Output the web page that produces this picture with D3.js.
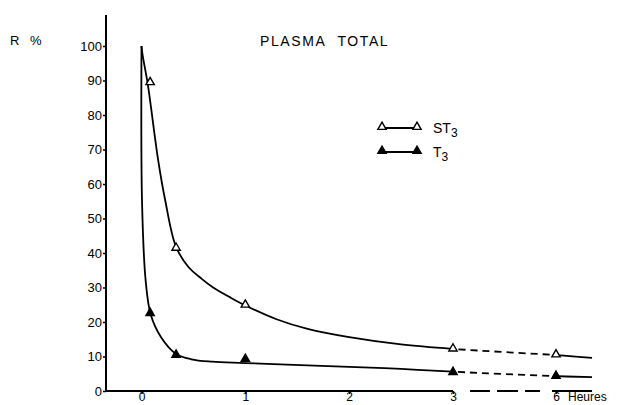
<!DOCTYPE html>
<html><head><meta charset="utf-8">
<script src="https://cdn.jsdelivr.net/npm/d3@7"></script>
<style>
body{margin:0;background:#fff;}
svg{display:block;font-family:"Liberation Sans",Arial,sans-serif;}
</style></head>
<body>
<svg id="c" width="623" height="405"></svg>
<script>
// ---- data ----
const times = [0.083, 0.333, 1, 3, 6];            // hours
const st3Values = [89.5, 41.5, 25, 12.3, 10.6];    // R %
const t3Values  = [22.6, 10.5, 9.3, 5.5, 4.4];     // R %
// fitted curves as drawn in the figure
const st3CurveT = [0, 0.01, 0.06, 0.16, 0.23, 0.33, 0.45, 0.58, 0.69, 0.85, 1, 1.3, 1.6, 2, 2.5, 3, 6, 7.05];
const st3CurveV = [100, 97.5, 89, 67, 55, 42, 36, 32.5, 30, 27.2, 24.8, 20.8, 18, 15.6, 13.5, 12.2, 10.4, 9.6];
const t3CurveT  = [0, 0.005, 0.04, 0.09, 0.19, 0.33, 0.48, 0.68, 1, 2, 2.5, 3, 6, 7.05];
const t3CurveV  = [100, 55, 32, 22, 15.5, 10.8, 9.2, 8.5, 8.1, 7, 6.4, 5.6, 4.3, 4];
const xTicks = [0, 1, 2, 3, 6];
const yTicks = [0, 10, 20, 30, 40, 50, 60, 70, 80, 90, 100];
const seriesNames = ["ST", "T"];

// ---- layout ----
const svg = d3.select("#c");
const axisX0 = 106, axisYTop = 15;
const x = d3.scaleLinear().domain([0, 3, 6]).range([141.5, 453, 556]);
const y = d3.scaleLinear().domain([0, 100]).range([391, 46]);
const fs = 13;

// clip paths for solid / dashed portions
const defs = svg.append("defs");
defs.append("clipPath").attr("id", "solidClip").selectAll("rect")
  .data([[0, x(3)], [x(6), 623]]).join("rect")
  .attr("x", d => d[0]).attr("y", 0).attr("width", d => d[1] - d[0]).attr("height", 405);
defs.append("clipPath").attr("id", "dashClip").append("rect")
  .attr("x", x(3)).attr("y", 0).attr("width", x(6) - x(3)).attr("height", 405);

// ---- axes ----
const yAxis = d3.axisLeft(y).tickValues(yTicks).tickSize(3).tickPadding(1).tickSizeOuter(0);
const gy = svg.append("g").attr("transform", `translate(${axisX0},0)`).call(yAxis);
gy.select(".domain").remove();
gy.selectAll("line").attr("stroke", "#000").attr("stroke-width", 1.5);
gy.selectAll("text").attr("font-size", fs).attr("fill", "#000").attr("font-family", "Liberation Sans, Arial, sans-serif");
svg.append("line").attr("x1", axisX0).attr("x2", axisX0).attr("y1", y(0)).attr("y2", axisYTop)
  .attr("stroke", "#000").attr("stroke-width", 2);

const xAxis = d3.axisBottom(x).tickValues(xTicks).tickFormat(d3.format("d")).tickSize(3).tickPadding(0).tickSizeOuter(0);
const gx = svg.append("g").attr("transform", `translate(0,${y(0)})`).call(xAxis);
gx.select(".domain").remove();
gx.selectAll("line").attr("stroke", "#000").attr("stroke-width", 1.5);
gx.selectAll("text").attr("font-size", 12).attr("dy", "0.6em").attr("fill", "#000")
  .attr("font-family", "Liberation Sans, Arial, sans-serif");
// broken x-axis line
svg.append("line").attr("x1", axisX0).attr("x2", x(3)).attr("y1", y(0)).attr("y2", y(0))
  .attr("stroke", "#000").attr("stroke-width", 2);
svg.append("line").attr("x1", x(3)).attr("x2", x(6) - 4).attr("y1", y(0)).attr("y2", y(0))
  .attr("stroke", "#000").attr("stroke-width", 2).attr("stroke-dasharray", "0,17,20,7,21,7,15,100");
svg.append("line").attr("x1", x(6) - 4).attr("x2", x(7.05)).attr("y1", y(0)).attr("y2", y(0))
  .attr("stroke", "#000").attr("stroke-width", 2);
svg.append("text").attr("x", x(6) + 12).attr("y", y(0) + 3).attr("dy", "0.6em")
  .attr("font-size", 12).text("Heures");

// ---- labels ----
svg.append("text").attr("x", 10).attr("y", 45).attr("font-size", fs).text("R");
svg.append("text").attr("x", 30).attr("y", 45).attr("font-size", fs).text("%");
svg.append("text").attr("x", 260).attr("y", 46).attr("font-size", 14).attr("letter-spacing", 1.6)
  .text("PLASMA\u00a0\u00a0TOTAL");

// ---- curves ----
const line = d3.line().x(d => x(d[0])).y(d => y(d[1])).curve(d3.curveCatmullRom.alpha(0.5));
const curves = [d3.zip(st3CurveT, st3CurveV), d3.zip(t3CurveT, t3CurveV)];
curves.forEach(c => {
  svg.append("path").attr("d", line(c)).attr("fill", "none").attr("stroke", "#000")
    .attr("stroke-width", 1.8).attr("clip-path", "url(#solidClip)");
  svg.append("path").attr("d", line(c)).attr("fill", "none").attr("stroke", "#000")
    .attr("stroke-width", 1.8).attr("stroke-dasharray", "7,5").attr("clip-path", "url(#dashClip)");
});

// ---- markers ----
const tri = d3.symbol().type(d3.symbolTriangle).size(30);
const fills = ["#fff", "#000"];
[st3Values, t3Values].forEach((vals, i) => {
  svg.append("g").selectAll("path").data(d3.zip(times, vals)).join("path")
    .attr("d", tri).attr("transform", d => `translate(${x(d[0])},${y(d[1])})`)
    .attr("fill", fills[i]).attr("stroke", "#000").attr("stroke-width", 1.4);
});

// ---- legend ----
const legY = [128, 152];
seriesNames.forEach((name, i) => {
  const g = svg.append("g");
  g.append("line").attr("x1", 382).attr("x2", 417).attr("y1", legY[i]).attr("y2", legY[i])
    .attr("stroke", "#000").attr("stroke-width", 1.8);
  g.selectAll("path").data([382, 417]).join("path").attr("d", tri)
    .attr("transform", d => `translate(${d},${legY[i] - 1})`)
    .attr("fill", fills[i]).attr("stroke", "#000").attr("stroke-width", 1.4);
  const t = g.append("text").attr("x", 433).attr("y", legY[i] + 5).attr("font-size", 14);
  t.append("tspan").text(name);
  t.append("tspan").attr("dy", 4).attr("font-size", 12).text("3");
});
</script>
</body></html>
